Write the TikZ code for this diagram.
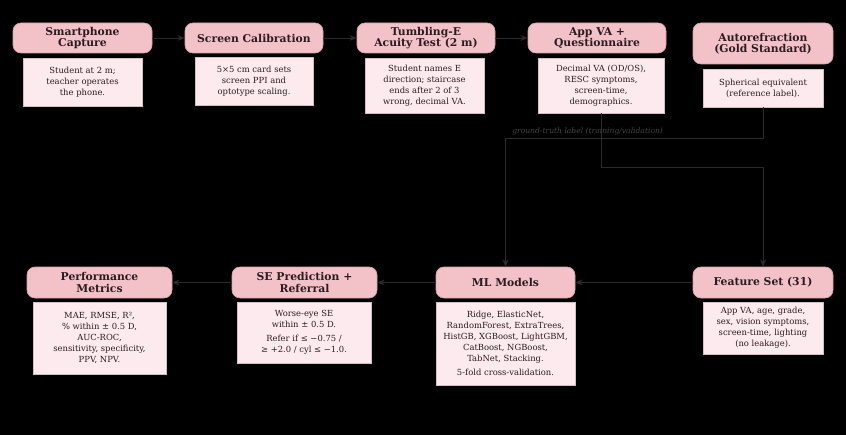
\documentclass[tikz,border=0pt]{standalone}
\usepackage{fontspec}
\setmainfont{DejaVu Serif}
\usetikzlibrary{arrows.meta}
\definecolor{hdrfill}{HTML}{F3C1C8}
\definecolor{hdrline}{HTML}{D8A2AC}
\definecolor{dscfill}{HTML}{FCEAEE}
\definecolor{dscline}{HTML}{CDBFC2}
\definecolor{txt}{HTML}{2A1C20}
\definecolor{conn}{HTML}{2A2A2A}
\definecolor{lbl}{HTML}{444444}
\tikzset{
  bw/.style={minimum width=#1*0.75pt},
  bh/.style={minimum height=#1*0.75pt},
  hdr/.style={draw=hdrline, line width=0.5pt, fill=hdrfill, rounded corners=6pt, inner sep=0pt,
    align=center, text=txt, font=\fontsize{8.1}{8.3}\selectfont\bfseries},
  dsc/.style={draw=dscline, line width=0.4pt, fill=dscfill, inner sep=0pt,
    align=center, text=txt, font=\fontsize{6.3}{8.2}\selectfont},
  conn/.style={draw=conn, line width=0.6pt, -{Stealth[length=5.5pt,width=4.5pt]}},
}
\begin{document}
\begin{tikzpicture}[x=0.75pt,y=-0.75pt]
\path[fill=black,use as bounding box] (0,0) rectangle (846,435);
% top headers
\node[hdr,bw=139,bh=30] (h1) at (82.5,38) {Smartphone\\Capture};
\node[hdr,bw=138,bh=30] (h2) at (254,38) {Screen Calibration};
\node[hdr,bw=138,bh=30] (h3) at (426,38) {Tumbling-E\\Acuity Test (2 m)};
\node[hdr,bw=138,bh=30] (h4) at (597,38) {App VA +\\Questionnaire};
\node[hdr,bw=140,bh=41] (h5) at (763,43.5) {Autorefraction\\(Gold Standard)};
% top descriptions
\node[dsc,bw=119,bh=48] (d1) at (82.5,82) {Student at 2 m;\\teacher operates\\the phone.};
\node[dsc,bw=118,bh=48] (d2) at (254,81) {5×5 cm card sets\\screen PPI and\\optotype scaling.};
\node[dsc,bw=119,bh=55] (d3) at (424.5,85.5) {Student names E\\direction; staircase\\ends after 2 of 3\\wrong, decimal VA.};
\node[dsc,bw=126,bh=55] (d4) at (601,85.5) {Decimal VA (OD/OS),\\RESC symptoms,\\screen-time,\\demographics.};
\node[dsc,bw=120,bh=38] (d5) at (763,88) {Spherical equivalent\\(reference label).};
% bottom headers
\node[hdr,bw=145,bh=31] (perf) at (99.5,282.5) {Performance\\Metrics};
\node[hdr,bw=145,bh=31] (se) at (304.5,282.5) {SE Prediction +\\Referral};
\node[hdr,bw=139,bh=31] (ml) at (505.5,282.5) {ML Models};
\node[hdr,bw=140,bh=31] (feat) at (763,282.5) {Feature Set (31)};
% bottom descriptions
\node[dsc,bw=133,bh=72] (perfd) at (99.5,338) {MAE, RMSE, R²,\\\% within ± 0.5 D,\\AUC-ROC,\\sensitivity, specificity,\\PPV, NPV.};
\node[dsc,bw=134,bh=61] (sed) at (304,332.5) {Worse-eye SE\\within ± 0.5 D.\\[2.5pt]Refer if ≤ −0.75 /\\≥ +2.0 / cyl ≤ −1.0.};
\node[dsc,bw=139,bh=83] (mld) at (505.5,343.5) {Ridge, ElasticNet,\\RandomForest, ExtraTrees,\\HistGB, XGBoost, LightGBM,\\CatBoost, NGBoost,\\TabNet, Stacking.\\[2.5pt]5-fold cross-validation.};
\node[dsc,bw=120,bh=52] (featd) at (763,328) {App VA, age, grade,\\sex, vision symptoms,\\screen-time, lighting\\(no leakage).};
% connectors
\draw[conn] (h1) -- (h2);
\draw[conn] (h2) -- (h3);
\draw[conn] (h3) -- (h4);
\draw[conn] (feat) -- (ml);
\draw[conn] (ml) -- (se);
\draw[conn] (se) -- (perf);
\draw[conn] (d4.south) -- ++(0,54) -| (feat.north);
\draw[conn] (d5.south) -- ++(0,31) coordinate (gt) -| (ml.north);
\node[anchor=south west, inner sep=0pt, text=lbl, font=\fontsize{5.7}{6}\selectfont\itshape] (gtl) at (512,135.5) {ground-truth label (training/validation)};
\end{tikzpicture}
\end{document}
